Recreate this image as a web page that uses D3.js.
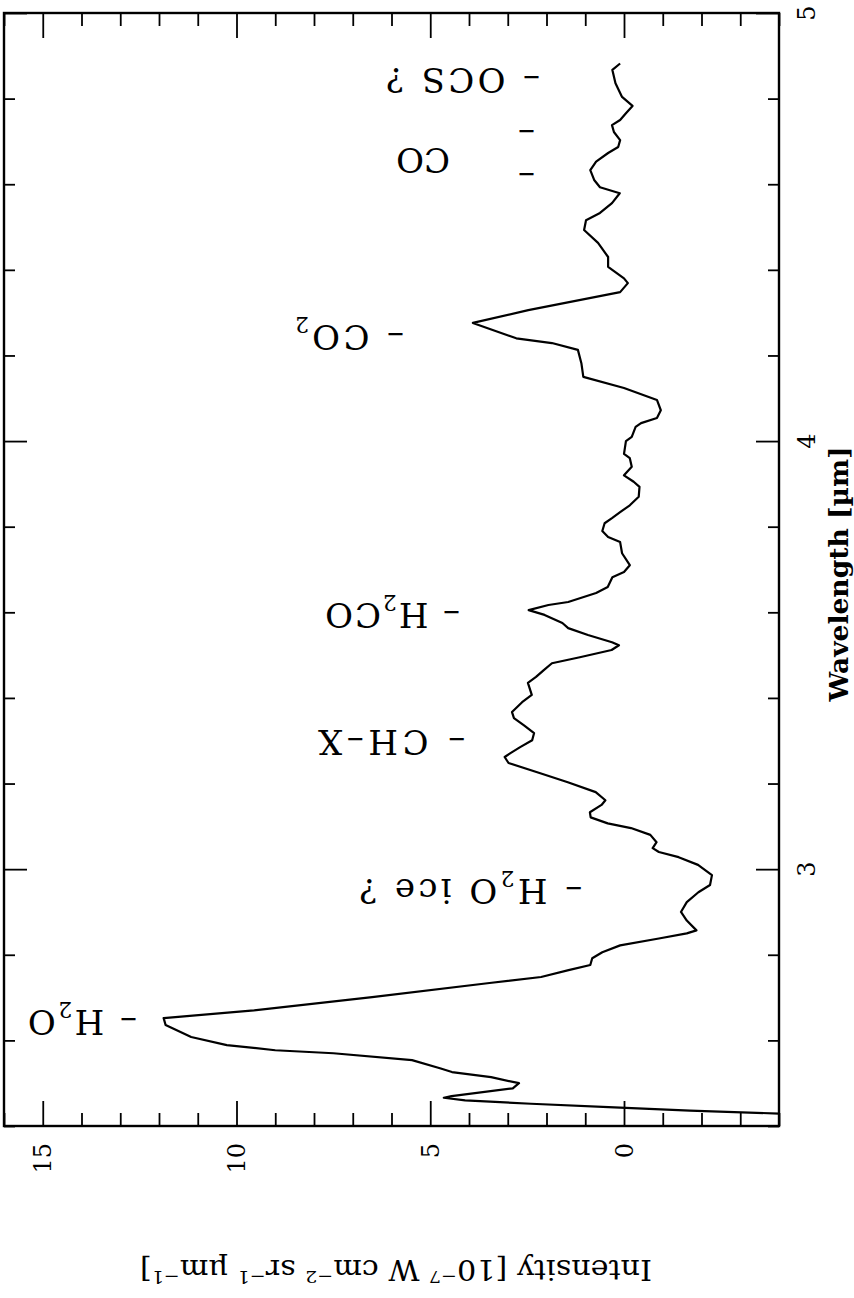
<!DOCTYPE html>
<html><head><meta charset="utf-8">
<script src="https://cdn.jsdelivr.net/npm/d3@7"></script>
<style>body{margin:0;background:#fff}</style>
</head><body>
<svg id="c" width="854" height="1298" xmlns="http://www.w3.org/2000/svg"></svg>
<script>
// ---- data (wavelength in micron, intensity in 1e-7 W cm^-2 sr^-1 um^-1)
const wavelength = [2.429,2.436,2.444,2.452,2.460,2.466,2.470,2.488,2.500,2.514,2.526,2.535,2.554,2.570,2.577,2.589,2.608,2.636,2.652,
  2.670,2.701,2.734,2.748,2.764,2.776,2.792,2.806,2.822,2.838,2.850,2.857,2.880,2.900,2.923,2.946,2.963,2.986,3.010,3.028,3.040,3.049,
  3.063,3.080,3.096,3.107,3.121,3.133,3.150,3.161,3.180,3.203,3.224,3.248,3.262,3.271,3.285,3.301,3.318,3.336,3.353,3.367,3.390,3.407,
  3.435,3.449,3.465,3.481,3.495,3.512,3.523,3.530,3.547,3.563,3.575,3.594,3.605,3.617,3.624,3.645,3.659,3.682,3.694,3.710,3.738,3.764,
  3.776,3.790,3.808,3.820,3.834,3.850,3.870,3.893,3.905,3.920,3.940,3.960,3.970,4.000,4.010,4.033,4.042,4.054,4.072,4.096,4.124,4.150,
  4.182,4.213,4.229,4.240,4.276,4.306,4.348,4.369,4.380,4.407,4.430,4.463,4.493,4.516,4.533,4.556,4.579,4.593,4.610,4.633,4.653,4.673,
  4.687,4.703,4.722,4.738,4.750,4.766,4.783,4.804,4.836,4.867,4.882];
const intensity = [-4.0,-1.7,0.4,2.4,4.1,4.65,4.45,2.87,2.71,3.43,4.44,4.75,5.47,7.5,9.0,10.25,11.17,11.83,11.88,
  9.55,6.5,3.47,2.14,1.43,0.87,0.82,0.56,0.1,-0.9,-1.62,-1.87,-1.62,-1.47,-1.62,-1.92,-2.22,-2.27,-1.91,-1.41,-0.9,-0.74,
  -0.84,-0.68,-0.18,0.42,0.86,0.88,0.58,0.48,0.73,1.45,2.16,2.98,3.08,2.93,2.68,2.37,2.32,2.58,2.84,2.89,2.63,2.38,
  2.48,2.27,2.07,1.86,1.14,0.32,0.13,0.31,0.93,1.44,1.59,2.05,2.46,1.95,1.44,0.72,0.42,0.3,0.0,-0.15,0.05,0.1,
  0.41,0.56,0.5,0.31,0.1,-0.15,-0.38,-0.4,-0.25,0.0,-0.2,-0.15,0.0,-0.05,-0.2,-0.3,-0.44,-0.85,-0.95,-0.85,0.0,1.05,
  1.1,1.19,1.86,2.78,3.9,2.47,0.1,-0.1,0.0,0.41,0.41,0.67,1.03,0.98,0.62,0.31,0.11,0.62,0.77,0.87,0.72,0.41,
  0.15,0.1,0.26,0.31,0.1,-0.05,-0.22,0.05,0.22,0.3,0.1];

const intensityLabels = [15, 10, 5, 0];
const wavelengthLabels = [3, 4, 5];
const intensityMinorTicks = d3.range(-4, 17, 1);
const wavelengthMinorTicks = d3.range(24, 51, 2).map(d => d / 10);

// annotation: wavelength position, intensity at the start (right end) of the upside-down text
const annoText = [
  [{t:"– OCS ?"}],
  [{t:"–"}],
  [{t:"–"}],
  [{t:"CO"}],
  [{t:"– CO"},{t:"2",sub:true}],
  [{t:"– H"},{t:"2",sub:true},{t:"CO"}],
  [{t:"– CH–X"}],
  [{t:"– H"},{t:"2",sub:true},{t:"O ice ?"}],
  [{t:"– H"},{t:"2",sub:true},{t:"O"}]
];
const annoWavelength = [4.843, 4.717, 4.617, 4.657, 4.243, 3.593, 3.297, 2.949, 2.643];
const annoIntensity  = [2.17, 2.30, 2.30, 4.49, 5.68, 4.23, 4.10, 1.08, 12.57];
const annoLength     = [154, 0, 0, 0, 109, 135, 147, 223, 109];

// ---- layout
const L = 4, R = 779, T = 13, B = 1126;
const svg = d3.select("#c");
const x = d3.scaleLinear().domain([16, -4]).range([L, R]);
const y = d3.scaleLinear().domain([2.4, 5.0]).range([B, T]);
const serif = "'DejaVu Serif', serif";

svg.append("rect").attr("width", 854).attr("height", 1298).attr("fill", "#fff");

// ticks via d3 axes (inward)
function addAxis(axis, tr) {
  const g = svg.append("g").attr("transform", tr).call(axis);
  g.select(".domain").remove();
  g.selectAll("line").attr("stroke", "#000").attr("stroke-width", 1.8);
  g.selectAll("text").remove();
}
const minorX = intensityMinorTicks.filter(d => d % 5 !== 0);
const majorX = intensityMinorTicks.filter(d => d % 5 === 0);
const minorY = wavelengthMinorTicks.filter(d => Math.abs(d - Math.round(d)) > 1e-6);
const majorY = wavelengthMinorTicks.filter(d => Math.abs(d - Math.round(d)) < 1e-6);
addAxis(d3.axisBottom(x).tickValues(minorX).tickSize(-13), `translate(0,${B})`);
addAxis(d3.axisBottom(x).tickValues(majorX).tickSize(-25), `translate(0,${B})`);
addAxis(d3.axisTop(x).tickValues(minorX).tickSize(-13), `translate(0,${T})`);
addAxis(d3.axisTop(x).tickValues(majorX).tickSize(-25), `translate(0,${T})`);
addAxis(d3.axisRight(y).tickValues(minorY).tickSize(-11), `translate(${R},0)`);
addAxis(d3.axisRight(y).tickValues(majorY).tickSize(-23), `translate(${R},0)`);
addAxis(d3.axisLeft(y).tickValues(minorY).tickSize(-11), `translate(${L},0)`);
addAxis(d3.axisLeft(y).tickValues(majorY).tickSize(-23), `translate(${L},0)`);

// frame
svg.append("rect").attr("x", L).attr("y", T).attr("width", R - L).attr("height", B - T)
  .attr("fill", "none").attr("stroke", "#000").attr("stroke-width", 2.4);

// curve
const pts = wavelength.map((w, i) => [w, intensity[i]]);
svg.append("path").datum(pts)
  .attr("d", d3.line().x(d => x(d[1])).y(d => y(d[0])))
  .attr("fill", "none").attr("stroke", "#000").attr("stroke-width", 2.2).attr("stroke-linejoin", "round");

// tick labels: intensity (bottom), rotated -90
const fsT = 24;
intensityLabels.forEach(v => {
  svg.append("text").attr("transform", `translate(${x(v)},1143) rotate(-90)`)
    .attr("y", fsT * 0.36).attr("text-anchor", "end")
    .attr("font-family", serif).attr("font-size", fsT).text(v);
});
// wavelength labels (right), rotated -90
wavelengthLabels.forEach(v => {
  svg.append("text").attr("transform", `translate(806,${y(v)}) rotate(-90)`)
    .attr("y", fsT * 0.36).attr("text-anchor", "middle")
    .attr("font-family", serif).attr("font-size", fsT).text(v);
});

// axis titles
svg.append("text").attr("transform", "translate(839,574) rotate(-90)")
  .attr("y", 26 * 0.36).attr("text-anchor", "middle")
  .attr("font-family", serif).attr("font-weight", "bold").attr("font-size", 26)
  .attr("textLength", 255).attr("lengthAdjust", "spacingAndGlyphs")
  .text("Wavelength [µm]");

const it = svg.append("text").attr("transform", "translate(396,1260) rotate(180)")
  .attr("y", 0).attr("text-anchor", "middle")
  .attr("font-family", serif).attr("font-size", 27)
  .attr("textLength", 512).attr("lengthAdjust", "spacingAndGlyphs");
const titleParts = [["Intensity [10"], ["−7", 1], [" W cm"], ["−2", 1], [" sr"], ["−1", 1], [" µm"], ["−1", 1], ["]"]];
titleParts.forEach((s, i) => {
  const ts = it.append("tspan").text(s[0]);
  if (s[1]) ts.attr("font-size", 17).attr("dy", -11);
  else if (i > 0 && titleParts[i - 1][1]) ts.attr("dy", 11);
});

// annotations (upside down)
const fsA = 34;
annoText.forEach((segs, i) => {
  const t = svg.append("text")
    .attr("transform", `translate(${x(annoIntensity[i])},${y(annoWavelength[i])}) rotate(180)`)
    .attr("y", fsA * 0.36).attr("text-anchor", "start")
    .attr("font-family", serif).attr("font-size", fsA);
  if (annoLength[i] > 0) t.attr("textLength", annoLength[i]).attr("lengthAdjust", "spacing");
  segs.forEach((s, j) => {
    const ts = t.append("tspan").text(s.t);
    if (s.sub) ts.attr("font-size", 22).attr("dy", 8);
    else if (j > 0 && segs[j - 1].sub) ts.attr("dy", -8);
  });
});
</script>
</body></html>
